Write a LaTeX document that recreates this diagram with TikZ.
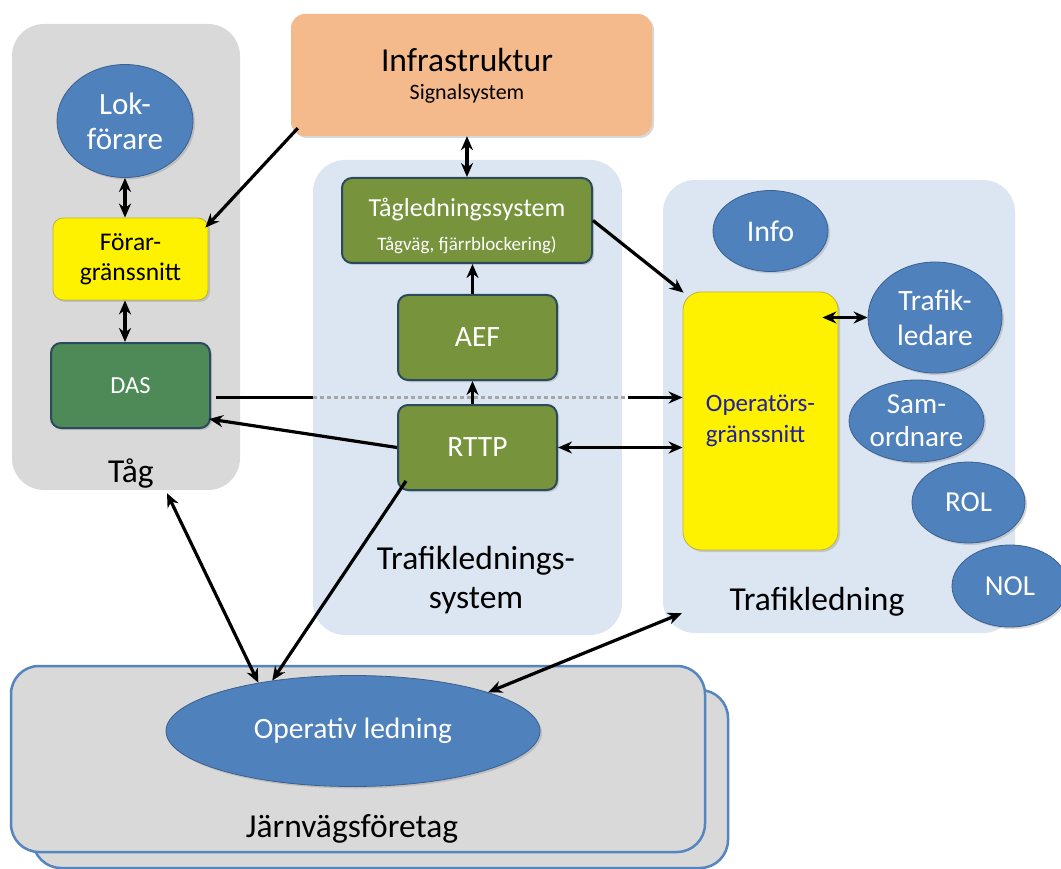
\documentclass[tikz,border=0pt]{standalone}
\usepackage{fontspec}
\setmainfont{Carlito}
\usetikzlibrary{shapes.geometric,arrows.meta,shadows,calc}
\definecolor{panelgray}{HTML}{D9D9D9}
\definecolor{panelblue}{HTML}{DCE6F2}
\definecolor{infracol}{HTML}{F5BA8C}
\definecolor{dasgreen}{HTML}{4E8A57}
\definecolor{olivegreen}{HTML}{77933C}
\definecolor{boxedge}{HTML}{2C4A5E}
\definecolor{ellblue}{HTML}{4F81BD}
\definecolor{elledge}{HTML}{3A6090}
\definecolor{optext}{HTML}{1F1F9F}
\definecolor{jfedge}{HTML}{5485BE}
\definecolor{dotgray}{HTML}{A6A6A6}
\begin{document}
\begin{tikzpicture}[x=1pt,y=-1pt,
  panel/.style={rounded corners=32pt, inner sep=0pt, draw=none},
  jfbox/.style={rounded corners=28pt, inner sep=0pt, fill=panelgray, draw=jfedge, line width=2.5pt},
  shade3d/.style={drop shadow={shadow xshift=2pt, shadow yshift=-2pt, opacity=0.3}},
  gbox/.style={rounded corners=10pt, draw=boxedge, line width=2pt, inner sep=0pt, align=center, text=white, shade3d},
  ybox/.style={rounded corners=10pt, draw=yellow!70!black, line width=0.8pt, fill=yellow, inner sep=0pt, align=center, shade3d},
  ell/.style={ellipse, fill=ellblue, draw=elledge, line width=0.8pt, inner sep=0pt, align=center, text=white, shade3d},
  lbl/.style={inner sep=0pt, align=center, font=\fontsize{33.5}{39}\selectfont},
  arr/.style={line width=3.2pt, -{Stealth[length=14pt,width=12pt]}},
  darr/.style={line width=3.2pt, {Stealth[length=14pt,width=12pt]}-{Stealth[length=14pt,width=12pt]}},
]
\useasboundingbox (0,0) rectangle (1061,869);
\fill[white] (0,0) rectangle (1061,869);

% panels
\node[panel, fill=panelgray, minimum width=228pt, minimum height=466pt] (tagp) at (126,257) {};
\node[panel, fill=panelblue, minimum width=309pt, minimum height=475pt] (tlsp) at (467.5,397.5) {};
\node[panel, fill=panelblue, minimum width=352pt, minimum height=453pt] (tlp) at (839,406.5) {};
\node[jfbox, minimum width=695pt, minimum height=178pt] (jfback) at (380.5,779) {};
\node[jfbox, minimum width=694pt, minimum height=186pt] (jf) at (358,759) {};

% panel labels
\node[lbl, anchor=base] (taglbl) at (131,482) {Tåg};
\node[lbl] (tlslbl) at (476,580) {Trafiklednings-\\system};
\node[lbl, anchor=base] (tllbl) at (817,610) {Trafikledning};
\node[lbl, anchor=base] (jflbl) at (352,837) {Järnvägsföretag};

% infrastructure
\node[rounded corners=14pt, fill=infracol, inner sep=0pt, shade3d, minimum width=361pt, minimum height=122pt] (infra) at (471.5,75) {};
\node[inner sep=0pt, anchor=base, font=\fontsize{33.5}{38}\selectfont] (infratitle) at (467,72) {Infrastruktur};
\node[inner sep=0pt, anchor=base, font=\fontsize{22}{26}\selectfont] (infrasub) at (467,100) {Signalsystem};

% train
\node[ell, minimum width=136pt, minimum height=113pt, font=\fontsize{31}{35}\selectfont] (lok) at (125,121) {Lok-\\förare};
\node[ybox, minimum width=155pt, minimum height=82pt, font=\fontsize{25.5}{30}\selectfont] (forar) at (130.5,259) {Förar-\\gränssnitt};
\node[gbox, fill=dasgreen, minimum width=159pt, minimum height=85pt, font=\fontsize{24.5}{28}\selectfont] (das) at (130.5,385.5) {DAS};

% traffic control system
\node[gbox, fill=olivegreen, minimum width=250pt, minimum height=85pt] (tlsbox) at (467,220.5) {};
\node[inner sep=0pt, anchor=base, text=white, font=\fontsize{26}{30}\selectfont] (tlstitle) at (467,217) {Tågledningssystem};
\node[inner sep=0pt, anchor=base, text=white, font=\fontsize{19}{22}\selectfont] (tlssub) at (467,251) {Tågväg, fjärrblockering)};
\node[gbox, fill=olivegreen, minimum width=159pt, minimum height=85pt, font=\fontsize{29.5}{34}\selectfont] (aef) at (477.5,337.5) {AEF};
\node[gbox, fill=olivegreen, minimum width=159pt, minimum height=85pt, font=\fontsize{29.5}{34}\selectfont] (rttp) at (477.5,447.5) {RTTP};

% traffic control
\node[ybox, rounded corners=18pt, minimum width=155pt, minimum height=258pt, align=left, text=optext, font=\fontsize{25}{31}\selectfont] (op) at (760.5,421) {Operatörs-\\gränssnitt};
\node[ell, minimum width=115pt, minimum height=81pt, font=\fontsize{30}{34}\selectfont] (info) at (770.5,231) {Info};
\node[ell, minimum width=134pt, minimum height=111pt, font=\fontsize{29.5}{35}\selectfont] (tfl) at (935,317.5) {Trafik-\\ledare};
\node[ell, minimum width=135pt, minimum height=82pt, font=\fontsize{29}{33}\selectfont] (sam) at (916.5,421) {Sam-\\ordnare};
\node[ell, minimum width=113pt, minimum height=81pt, font=\fontsize{29}{33}\selectfont] (rol) at (968.5,502.5) {ROL};
\node[ell, minimum width=116pt, minimum height=82pt, font=\fontsize{29}{33}\selectfont] (nol) at (1010,586) {NOL};

% railway undertaking
\node[ell, minimum width=374pt, minimum height=111pt, font=\fontsize{29.5}{34}\selectfont] (opl) at (353,731) {Operativ ledning};

% connectors
\draw[darr] (lok.south) -- (lok.south |- forar.north);
\draw[darr] (forar.south -| lok.south) -- (das.north -| lok.south);
\draw[arr] ($(infra.south west)+(7,-8)$) -- ($(forar.north east)+(-3,10)$);
\draw[darr] (tlsbox.north) -- (tlsbox.north |- infra.south);
\draw[arr] ([xshift=-5pt]aef.north) -- ([xshift=-5pt]aef.north |- tlsbox.south);
\draw[arr] ([xshift=-5pt]rttp.north) -- ([xshift=-5pt]aef.south);
\draw[arr] (tlsbox.east) -- ($(op.north west)+(1,1)$);
\coordinate (dasout) at ($(das.east)+(5,12)$);
\draw[line width=3.2pt] (dasout) -- (dasout -| tlsp.west);
\draw[dotgray, line width=3.2pt, dash pattern=on 4pt off 3pt] (dasout -| tlsp.west) -- ($(dasout -| tlsp.east)+(6,0)$);
\draw[arr] ($(dasout -| tlsp.east)+(6,0)$) -- (dasout -| op.west);
\draw[arr] (rttp.west) -- ($(das.south east)+(-2,-10)$);
\draw[darr] (rttp.east) -- (rttp.east -| op.west);
\draw[darr] (tfl.west) -- ($(op.east |- tfl.west)+(-16,0)$);
\draw[darr] ($(tagp.south)+(41,3)$) -- (opl.153);
\draw[arr] ($(rttp.south west)+(9,-10)$) -- (opl.148);
\draw[darr] (opl.16) -- ($(tlp.south west)+(19,-20)$);
\end{tikzpicture}
\end{document}
